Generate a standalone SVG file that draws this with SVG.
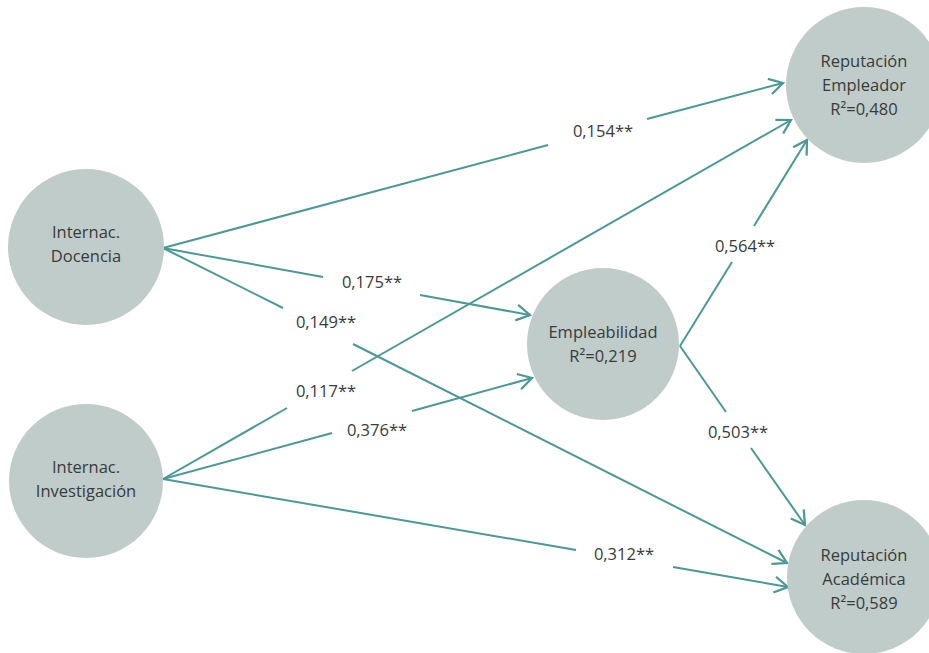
<svg xmlns="http://www.w3.org/2000/svg" width="929" height="653" viewBox="0 0 929 653">
<defs>
<style>
.node{fill:#bfccc9}
.nt{font-family:"Open Sans","Noto Sans",sans-serif;font-size:16.5px;fill:#383b3b;text-anchor:middle}
.lbl{font-family:"Open Sans","Noto Sans",sans-serif;font-size:16.5px;fill:#383b3b;text-anchor:middle}
.e{stroke:#4b9896;stroke-width:2;fill:none}
</style>
<marker id="ah" markerUnits="userSpaceOnUse" markerWidth="18" markerHeight="18" viewBox="0 0 16 16" refX="14" refY="8" orient="auto">
<path d="M2,1 L14,8 L2,15" fill="none" stroke="#4b9896" stroke-width="2"/>
</marker>
</defs>
<rect width="929" height="653" fill="#ffffff"/>
<g id="connectors">
<line class="e" x1="163" y1="248" x2="548" y2="145"/>
<line class="e" x1="647" y1="119" x2="783" y2="83" marker-end="url(#ah)"/>
<line class="e" x1="163" y1="248" x2="323" y2="277"/>
<line class="e" x1="420" y1="295" x2="530" y2="315" marker-end="url(#ah)"/>
<line class="e" x1="163" y1="248" x2="283" y2="308"/>
<line class="e" x1="353" y1="344" x2="787" y2="563" marker-end="url(#ah)"/>
<line class="e" x1="163" y1="479" x2="287" y2="408"/>
<line class="e" x1="352" y1="371" x2="791" y2="120" marker-end="url(#ah)"/>
<line class="e" x1="163" y1="479" x2="332" y2="433"/>
<line class="e" x1="412" y1="411" x2="532" y2="378" marker-end="url(#ah)"/>
<line class="e" x1="163" y1="479" x2="576" y2="550"/>
<line class="e" x1="673" y1="567" x2="788" y2="587" marker-end="url(#ah)"/>
<line class="e" x1="680" y1="346" x2="732" y2="262"/>
<line class="e" x1="754" y1="226" x2="807" y2="140" marker-end="url(#ah)"/>
<line class="e" x1="680" y1="346" x2="726" y2="412"/>
<line class="e" x1="751" y1="448" x2="805" y2="525" marker-end="url(#ah)"/>
</g>
<g id="labels">
<text class="lbl" x="603" y="137">0,154**</text>
<text class="lbl" x="372" y="288">0,175**</text>
<text class="lbl" x="326" y="328">0,149**</text>
<text class="lbl" x="326" y="397">0,117**</text>
<text class="lbl" x="377" y="436">0,376**</text>
<text class="lbl" x="624" y="560">0,312**</text>
<text class="lbl" x="745" y="252">0,564**</text>
<text class="lbl" x="738" y="438">0,503**</text>
</g>
<g id="node-docencia">
<circle class="node" cx="86" cy="247" r="78"/>
<text class="nt" x="86" y="238">Internac.</text>
<text class="nt" x="86" y="262">Docencia</text>
</g>
<g id="node-investigacion">
<circle class="node" cx="86" cy="481" r="77"/>
<text class="nt" x="86" y="473">Internac.</text>
<text class="nt" x="86" y="497">Investigación</text>
</g>
<g id="node-empleabilidad">
<circle class="node" cx="603" cy="344" r="76"/>
<text class="nt" x="603" y="338">Empleabilidad</text>
<text class="nt" x="603" y="362">R²=0,219</text>
</g>
<g id="node-rep-empleador">
<circle class="node" cx="864" cy="85" r="78"/>
<text class="nt" x="864" y="67">Reputación</text>
<text class="nt" x="864" y="91">Empleador</text>
<text class="nt" x="864" y="115">R²=0,480</text>
</g>
<g id="node-rep-academica">
<circle class="node" cx="864" cy="577" r="77"/>
<text class="nt" x="864" y="561">Reputación</text>
<text class="nt" x="864" y="585">Académica</text>
<text class="nt" x="864" y="609">R²=0,589</text>
</g>
</svg>
